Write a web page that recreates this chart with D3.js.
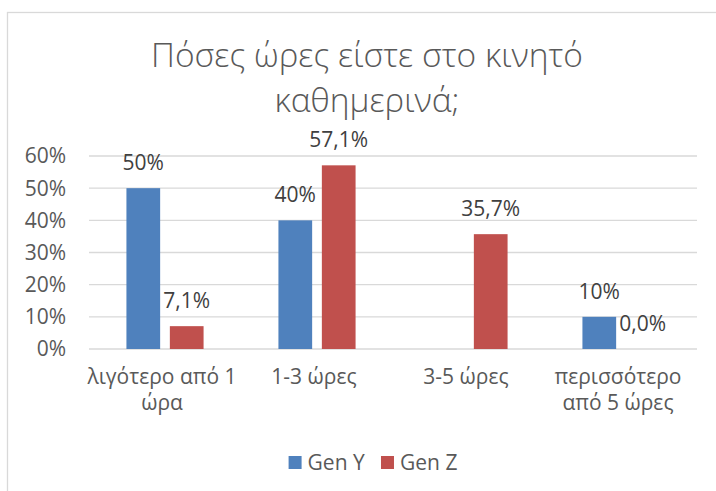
<!DOCTYPE html>
<html lang="el">
<head>
<meta charset="UTF-8">
<title>Πόσες ώρες είστε στο κινητό καθημερινά;</title>
<script src="https://d3js.org/d3.v7.min.js"></script>
<style>
  body { margin: 0; background: #fff; }
  svg { font-family: "Open Sans", "Noto Sans", sans-serif; }
  .grid line { stroke: #d9d9d9; stroke-width: 1.3px; }
  .tick-label { fill: #595959; font-size: 21px; }
  .value-label { fill: #404040; font-size: 21px; }
  .cat-label { fill: #595959; font-size: 21px; }
  .legend text { fill: #595959; font-size: 21px; }
  .title { fill: #595959; font-size: 33.5px; font-weight: 300; }
</style>
</head>
<body>
<svg width="716" height="491"></svg>
<script>
// data
var categories = ["λιγότερο από 1 ώρα", "1-3 ώρες", "3-5 ώρες", "περισσότερο από 5 ώρες"];
var seriesNames = ["Gen Y", "Gen Z"];
var genY = [0.50, 0.40, null, 0.10];
var genZ = [0.071, 0.571, 0.357, 0.0];
var yTicks = [0, 0.1, 0.2, 0.3, 0.4, 0.5, 0.6];
var colors = ["#4f81bd", "#c0504d"];
var titleLines = ["Πόσες ώρες είστε στο κινητό", "καθημερινά;"];

var svg = d3.select("svg");
var margin = { left: 89, right: 19, top: 156, bottom: 142 };
var width = 716 - margin.left - margin.right,
    height = 491 - margin.top - margin.bottom;

// chart border
svg.append("rect")
  .attr("x", 7.5).attr("y", 12.5)
  .attr("width", 760).attr("height", 520)
  .attr("fill", "none").attr("stroke", "#d9d9d9").attr("stroke-width", 1.3);

// title
svg.append("text")
  .attr("class", "title")
  .attr("text-anchor", "middle")
  .selectAll("tspan")
  .data(titleLines)
  .enter().append("tspan")
  .attr("x", 367)
  .attr("y", function(d, i) { return 67 + i * 45; })
  .text(function(d) { return d; });

var g = svg.append("g").attr("transform", "translate(" + margin.left + "," + margin.top + ")");

var x0 = d3.scaleBand().domain(categories).range([0, width]).padding(0);
var x1 = d3.scaleBand().domain(seriesNames).range([0, x0.bandwidth()])
  .paddingInner(0.2235).paddingOuter(0.862);
var y = d3.scaleLinear().domain([0, 0.6]).range([height, 0]);

// gridlines
g.append("g").attr("class", "grid")
  .selectAll("line")
  .data(yTicks)
  .enter().append("line")
  .attr("x1", 0).attr("x2", width)
  .attr("y1", function(d) { return y(d); })
  .attr("y2", function(d) { return y(d); });

// y tick labels
g.append("g")
  .selectAll("text")
  .data(yTicks)
  .enter().append("text")
  .attr("class", "tick-label")
  .attr("text-anchor", "end")
  .attr("x", -23)
  .attr("y", function(d) { return y(d); })
  .attr("dy", "0.35em")
  .text(d3.format(".0%"));

// bars
var rows = categories.map(function(c, i) {
  return { cat: c, values: [
    { key: seriesNames[0], value: genY[i], s: 0 },
    { key: seriesNames[1], value: genZ[i], s: 1 }
  ] };
});

var fmtLabel = function(d) {
  // Gen Y whole percents, Gen Z one decimal with comma
  var f = d.s === 0 ? d3.format(".0%") : d3.format(".1%");
  return f(d.value).replace(".", ",");
};

var groups = g.selectAll(".cat")
  .data(rows)
  .enter().append("g")
  .attr("class", "cat")
  .attr("transform", function(d) { return "translate(" + x0(d.cat) + ",0)"; });

groups.selectAll("rect")
  .data(function(d) { return d.values.filter(function(v) { return v.value !== null; }); })
  .enter().append("rect")
  .attr("x", function(d) { return x1(d.key); })
  .attr("width", x1.bandwidth())
  .attr("y", function(d) { return y(d.value); })
  .attr("height", function(d) { return height - y(d.value); })
  .attr("fill", function(d) { return colors[d.s]; });

groups.selectAll(".value-label")
  .data(function(d) { return d.values.filter(function(v) { return v.value !== null; }); })
  .enter().append("text")
  .attr("class", "value-label")
  .attr("text-anchor", "middle")
  .attr("x", function(d) { return x1(d.key) + x1.bandwidth() / 2; })
  .attr("y", function(d) { return y(d.value) - 18; })
  .text(fmtLabel);

// category labels, wrapped
var maxW = 162;
g.append("g")
  .selectAll("text")
  .data(categories)
  .enter().append("text")
  .attr("class", "cat-label")
  .attr("text-anchor", "middle")
  .attr("x", function(d) { return x0(d) + x0.bandwidth() / 2 - 3; })
  .attr("y", height + 35)
  .each(function(d) {
    var t = d3.select(this), words = d.split(" "), line = [];
    var tspan = t.append("tspan").attr("x", t.attr("x")).attr("dy", 0);
    words.forEach(function(w) {
      line.push(w);
      tspan.text(line.join(" "));
      if (tspan.node().getComputedTextLength() > maxW && line.length > 1) {
        line.pop();
        tspan.text(line.join(" "));
        line = [w];
        tspan = t.append("tspan").attr("x", t.attr("x")).attr("dy", 26).text(w);
      }
    });
  });

// legend
var legend = svg.append("g").attr("class", "legend");
var items = legend.selectAll("g")
  .data(seriesNames)
  .enter().append("g");
items.append("rect")
  .attr("width", 13).attr("height", 13)
  .attr("y", 456)
  .attr("fill", function(d, i) { return colors[i]; });
items.append("text")
  .attr("x", 19).attr("y", 469.5)
  .text(function(d) { return d; });
var pos = 0, offs = [];
items.each(function() {
  offs.push(pos);
  pos += this.getBBox().width + 16;
});
var total = pos - 16, start = 373 - total / 2;
items.attr("transform", function(d, i) { return "translate(" + (start + offs[i]) + ",0)"; });
</script>
</body>
</html>
